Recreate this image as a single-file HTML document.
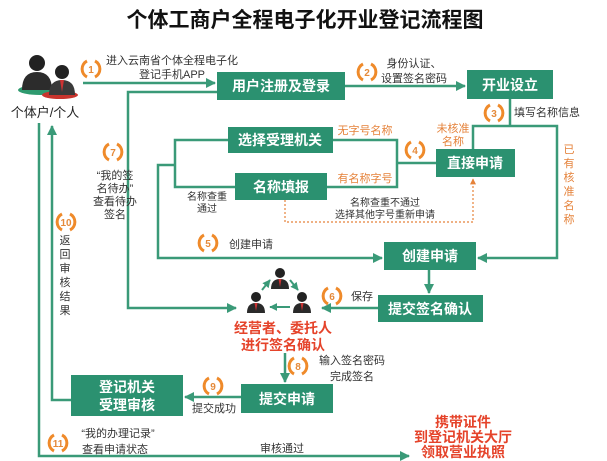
<!DOCTYPE html>
<html><head><meta charset="utf-8"><style>
html,body{margin:0;padding:0;background:#fff;}
svg{display:block;font-family:"Liberation Sans","Noto Sans CJK SC",sans-serif;}
.bx{fill:#2b9170;}
.bt{fill:#fff;font-weight:bold;font-size:14px;text-anchor:middle;}
.ln{stroke:#3a9a78;stroke-width:2.5;fill:none;}
.tx{fill:#333;font-size:11px;}
.or{fill:#e5823a;font-size:11px;}
.red{fill:#e5432a;font-weight:bold;font-size:14px;text-anchor:middle;}
.cn{fill:#e58a3a;font-size:10px;font-weight:bold;text-anchor:middle;}
</style></head><body>
<svg width="607" height="461" viewBox="0 0 607 461" xmlns="http://www.w3.org/2000/svg">
<defs>
<marker id="a" viewBox="0 0 10 10" refX="9" refY="5" markerWidth="4" markerHeight="4" orient="auto"><path d="M0,0L10,5L0,10z" fill="#3a9a78"/></marker>
<marker id="ao" viewBox="0 0 10 10" refX="9" refY="5" markerWidth="5" markerHeight="5" orient="auto"><path d="M0,0L10,5L0,10z" fill="#e5823a"/></marker>
<g id="c"><path d="M-4,-8 A9,9 0 0,0 -4,8" stroke="#ef8a2a" stroke-width="3" fill="none"/><path d="M4,-8 A9,9 0 0,1 4,8" stroke="#ef8a2a" stroke-width="3" fill="none"/></g>
<g id="p"><circle cx="0" cy="-8" r="5" fill="#222"/><path d="M-9,8 Q-9,-2 0,-2 Q9,-2 9,8z" fill="#2a2a2a"/><path d="M-1.5,-2 L1.5,-2 L0,6z" fill="#c33"/></g>
</defs>
<text x="305" y="27" text-anchor="middle" font-size="21" font-weight="bold" fill="#111">个体工商户全程电子化开业登记流程图</text>

<ellipse cx="40" cy="90" rx="22" ry="5" fill="#2e9a6f"/>
<ellipse cx="60" cy="95" rx="18" ry="4" fill="#c9342d"/>
<circle cx="37" cy="63" r="8" fill="#222"/><path d="M22,90 Q22,72 37,72 Q52,72 52,90z" fill="#2c2c2c"/>
<circle cx="62" cy="72" r="7" fill="#222"/><path d="M49,95 Q49,80 62,80 Q75,80 75,95z" fill="#3a3a3a"/><path d="M60,80 L64,80 L62,92z" fill="#c33"/>
<text x="45" y="117" text-anchor="middle" font-size="13" fill="#222">个体户/个人</text>

<rect class="bx" x="217" y="72" width="128" height="28"/><text class="bt" x="281" y="91">用户注册及登录</text>
<rect class="bx" x="467" y="70" width="86" height="29"/><text class="bt" x="510" y="90">开业设立</text>
<rect class="bx" x="228" y="127" width="105" height="26"/><text class="bt" x="280" y="145">选择受理机关</text>
<rect class="bx" x="235" y="173" width="92" height="27"/><text class="bt" x="281" y="192">名称填报</text>
<rect class="bx" x="436" y="149" width="79" height="28"/><text class="bt" x="475" y="168">直接申请</text>
<rect class="bx" x="384" y="242" width="92" height="28"/><text class="bt" x="430" y="261">创建申请</text>
<rect class="bx" x="378" y="295" width="105" height="27"/><text class="bt" x="430" y="314">提交签名确认</text>
<rect class="bx" x="241" y="384" width="92" height="29"/><text class="bt" x="287" y="404">提交申请</text>
<rect class="bx" x="71" y="375" width="112" height="41"/><text class="bt" x="127" y="392">登记机关</text><text class="bt" x="127" y="410">受理审核</text>

<line class="ln" x1="83" y1="83" x2="215" y2="83" marker-end="url(#a)"/>
<polyline class="ln" points="217,92 128,92 128,308 236,308" marker-end="url(#a)"/>
<line class="ln" x1="345" y1="86" x2="465" y2="86" marker-end="url(#a)"/>
<polyline class="ln" points="510,99 510,126"/>
<polyline class="ln" points="473,149 473,126 557,126 557,258 478,258" marker-end="url(#a)"/>
<polyline class="ln" points="436,163 397,163"/>
<polyline class="ln" points="333,140 397,140 397,187 327,187"/>
<polyline class="ln" points="228,140 175,140 175,187 235,187"/>
<polyline class="ln" points="175,165 158,165 158,258 382,258" marker-end="url(#a)"/>
<polyline points="285,200 285,222 473,222 473,179" stroke="#e5823a" stroke-width="1.2" stroke-dasharray="2,2" fill="none" marker-end="url(#ao)"/>
<line class="ln" x1="429" y1="270" x2="429" y2="293" marker-end="url(#a)"/>
<line class="ln" x1="378" y1="308" x2="322" y2="308" marker-end="url(#a)"/>
<line class="ln" x1="285" y1="353" x2="285" y2="382" marker-end="url(#a)"/>
<line class="ln" x1="241" y1="397" x2="185" y2="397" marker-end="url(#a)"/>
<polyline class="ln" points="71,400 52,400 52,126" marker-end="url(#a)"/>
<polyline class="ln" points="39,123 39,456 409,456" marker-end="url(#a)"/>

<use href="#p" x="280" y="281"/><use href="#p" x="256" y="305"/><use href="#p" x="302" y="305"/>
<line x1="262" y1="290" x2="270" y2="280" stroke="#3a9a78" stroke-width="2" marker-end="url(#a)"/>
<line x1="290" y1="280" x2="298" y2="290" stroke="#3a9a78" stroke-width="2" marker-end="url(#a)"/>
<line x1="290" y1="307" x2="270" y2="307" stroke="#3a9a78" stroke-width="2" marker-end="url(#a)"/>

<use href="#c" x="91" y="69"/><text class="cn" x="91" y="73">1</text>
<use href="#c" x="367" y="72"/><text class="cn" x="367" y="76">2</text>
<use href="#c" x="494" y="113"/><text class="cn" x="494" y="117">3</text>
<use href="#c" x="415" y="150"/><text class="cn" x="415" y="154">4</text>
<use href="#c" x="208" y="243"/><text class="cn" x="208" y="247">5</text>
<use href="#c" x="332" y="296"/><text class="cn" x="332" y="300">6</text>
<use href="#c" x="113" y="152"/><text class="cn" x="113" y="156">7</text>
<use href="#c" x="298" y="366"/><text class="cn" x="298" y="370">8</text>
<use href="#c" x="213" y="386"/><text class="cn" x="213" y="390">9</text>
<use href="#c" x="66" y="222"/><text class="cn" x="66" y="226">10</text>
<use href="#c" x="58" y="443"/><text class="cn" x="58" y="447">11</text>

<text class="tx" x="172" y="64" text-anchor="middle">进入云南省个体全程电子化</text>
<text class="tx" x="172" y="78" text-anchor="middle">登记手机APP</text>
<text class="tx" x="414" y="67" text-anchor="middle">身份认证、</text>
<text class="tx" x="414" y="82" text-anchor="middle">设置签名密码</text>
<text class="tx" x="514" y="116">填写名称信息</text>
<text class="or" x="453" y="132" text-anchor="middle">未核准</text>
<text class="or" x="453" y="145" text-anchor="middle">名称</text>
<g class="or" text-anchor="middle"><text x="569" y="153">已</text><text x="569" y="167">有</text><text x="569" y="181">核</text><text x="569" y="195">准</text><text x="569" y="209">名</text><text x="569" y="223">称</text></g>
<text class="or" x="365" y="134" text-anchor="middle">无字号名称</text>
<text class="or" x="365" y="182" text-anchor="middle">有名称字号</text>
<text x="207" y="200" text-anchor="middle" font-size="10" fill="#333">名称查重</text>
<text x="207" y="212" text-anchor="middle" font-size="10" fill="#333">通过</text>
<text x="385" y="206" text-anchor="middle" font-size="10" fill="#333">名称查重不通过</text>
<text x="385" y="218" text-anchor="middle" font-size="10" fill="#333">选择其他字号重新申请</text>
<g class="tx" text-anchor="middle"><text x="115" y="179">“我的签</text><text x="115" y="192">名待办”</text><text x="115" y="205">查看待办</text><text x="115" y="218">签名</text></g>
<text class="tx" x="229" y="248">创建申请</text>
<text class="tx" x="351" y="300">保存</text>
<text class="red" x="283" y="333">经营者、委托人</text>
<text class="red" x="283" y="350">进行签名确认</text>
<text class="tx" x="352" y="364" text-anchor="middle">输入签名密码</text>
<text class="tx" x="352" y="380" text-anchor="middle">完成签名</text>
<text class="tx" x="214" y="412" text-anchor="middle">提交成功</text>
<g class="tx" text-anchor="middle"><text x="65" y="244">返</text><text x="65" y="258">回</text><text x="65" y="272">审</text><text x="65" y="286">核</text><text x="65" y="300">结</text><text x="65" y="314">果</text></g>
<text class="tx" x="118" y="437" text-anchor="middle">“我的办理记录”</text>
<text class="tx" x="115" y="453" text-anchor="middle">查看申请状态</text>
<text class="tx" x="282" y="452" text-anchor="middle">审核通过</text>
<text class="red" x="463" y="427">携带证件</text>
<text class="red" x="463" y="442">到登记机关大厅</text>
<text class="red" x="463" y="457">领取营业执照</text>
</svg>
</body></html>
